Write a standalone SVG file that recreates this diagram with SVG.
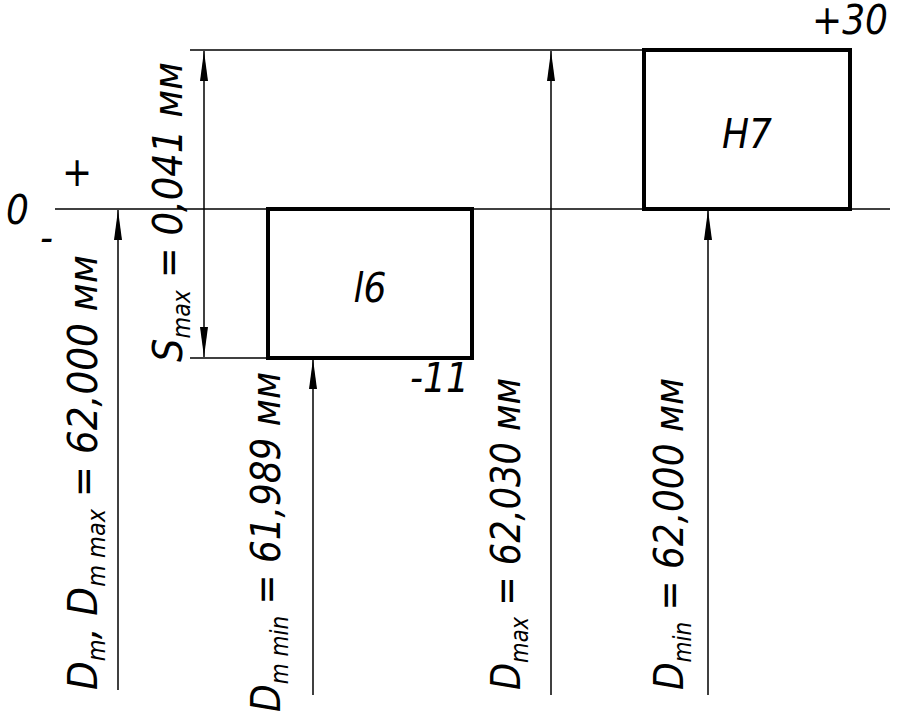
<svg xmlns="http://www.w3.org/2000/svg" width="902" height="722" viewBox="0 0 902 722">
<style>
.l{stroke:#000;stroke-width:1.5;fill:none}
.b{stroke:#000;stroke-width:4;fill:none}
.t{font-family:"DejaVu Sans Condensed","DejaVu Sans",sans-serif;font-style:italic;font-weight:300;fill:#000;font-size:40px}
.s{font-size:24px}
</style>
<defs>
<marker id="a" viewBox="0 -5 30 10" refX="30" refY="0" markerWidth="30" markerHeight="10" orient="auto-start-reverse" markerUnits="userSpaceOnUse"><path d="M30 0 L0 -4 L0 4 Z" fill="#000"/></marker>
</defs>
<g id="lines">
<line class="l" x1="55" y1="209" x2="890" y2="209"/>
<line class="l" x1="190" y1="50" x2="850" y2="50"/>
<line class="l" x1="190" y1="358" x2="270" y2="358"/>
</g>
<g id="H7"><rect class="b" x="644" y="50" width="206" height="159"/><text class="t" x="747" y="148" text-anchor="middle" font-size="40">H7</text></g>
<g id="l6"><rect class="b" x="268" y="209" width="204" height="149"/><text class="t" x="370" y="302" text-anchor="middle" font-size="40">l6</text></g>
<g id="connectors">
<line class="l" x1="118" y1="690" x2="118" y2="210" marker-end="url(#a)"/>
<line class="l" x1="204" y1="51" x2="204" y2="357" marker-start="url(#a)" marker-end="url(#a)"/>
<line class="l" x1="313" y1="695" x2="313" y2="359" marker-end="url(#a)"/>
<line class="l" x1="551" y1="695" x2="551" y2="51" marker-end="url(#a)"/>
<line class="l" x1="708" y1="695" x2="708" y2="210" marker-end="url(#a)"/>
</g>
<g id="labels">
<text class="t" x="6" y="224" font-size="50">0</text>
<text class="t" x="62" y="186" font-size="24">+</text>
<text class="t" x="40" y="252" font-size="28">-</text>
<text class="t" x="888" y="34" font-size="22" text-anchor="end">+30</text>
<text class="t" x="410" y="392" font-size="24">-11</text>
<text class="t" transform="translate(97,690) rotate(-90)" textLength="435" lengthAdjust="spacingAndGlyphs">D<tspan class="s" dy="8">m</tspan><tspan dy="-8">, D</tspan><tspan class="s" dy="8">m max</tspan><tspan dy="-8"> = 62,000 мм</tspan></text>
<text class="t" transform="translate(182,362) rotate(-90)" textLength="300" lengthAdjust="spacingAndGlyphs">S<tspan class="s" dy="8">max</tspan><tspan dy="-8"> = 0,041 мм</tspan></text>
<text class="t" transform="translate(280,712) rotate(-90)" textLength="340" lengthAdjust="spacingAndGlyphs">D<tspan class="s" dy="8">m min</tspan><tspan dy="-8"> = 61,989 мм</tspan></text>
<text class="t" transform="translate(520,690) rotate(-90)" textLength="312" lengthAdjust="spacingAndGlyphs">D<tspan class="s" dy="8">max</tspan><tspan dy="-8"> = 62,030 мм</tspan></text>
<text class="t" transform="translate(683,690) rotate(-90)" textLength="312" lengthAdjust="spacingAndGlyphs">D<tspan class="s" dy="8">min</tspan><tspan dy="-8"> = 62,000 мм</tspan></text>
</g>
</svg>
